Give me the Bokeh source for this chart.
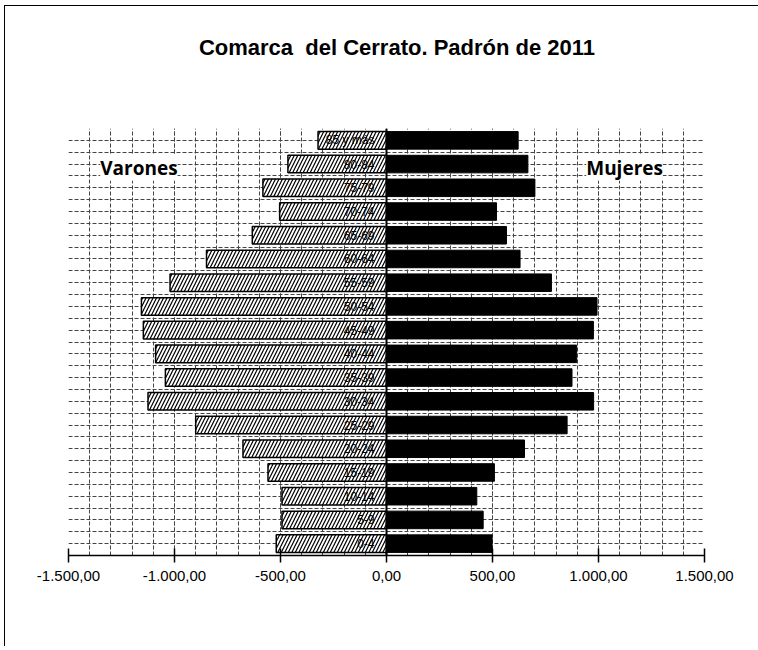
from bokeh.plotting import figure
from bokeh.layouts import column
from bokeh.models import (ColumnDataSource, Label, Span, SingleIntervalTicker,
                          FixedTicker, CustomJSTickFormatter, Range1d, Div)
from bokeh.core.properties import value
from bokeh.embed import file_html
from bokeh.resources import INLINE

# Data (bottom to top)
age_groups = ["0-4", "5-9", "10-14", "15-19", "20-24", "25-29", "30-34", "35-39",
              "40-44", "45-49", "50-54", "55-59", "60-64", "65-69", "70-74",
              "75-79", "80-84", "85 y más"]
varones = [520, 493, 493, 559, 677, 900, 1125, 1043, 1089, 1147, 1156, 1021,
           849, 633, 504, 583, 465, 323]
mujeres = [498, 456, 426, 509, 651, 852, 977, 875, 897, 976, 993, 778,
           630, 566, 519, 700, 667, 621]
title_text = "Comarca  del Cerrato. Padrón de 2011"

pos = list(range(len(age_groups)))
src = ColumnDataSource(dict(
    y=pos,
    age=age_groups,
    men=[-v for v in varones],
    women=mujeres,
    zero=[0] * len(pos),
))

title_div = Div(
    text=('<div style="width:748px;box-sizing:border-box;padding-left:26px;'
          'padding-top:24px;text-align:center;white-space:pre;'
          'font-family:\'Liberation Sans\';font-weight:bold;font-size:22px;'
          'line-height:26px;color:black;">' + title_text + '</div>'),
    width=748, height=110)

p = figure(width=748, height=520, output_backend="svg", toolbar_location=None,
           x_range=Range1d(-1500, 1500), y_range=Range1d(-0.5, len(pos) - 0.5),
           min_border_left=63, min_border_right=49, min_border_top=2,
           min_border_bottom=91)
p.outline_line_color = None
p.background_fill_color = "white"
p.border_fill_color = "white"

# grid
p.xaxis.ticker = SingleIntervalTicker(interval=500, num_minor_ticks=5)
p.xgrid.grid_line_color = "#444444"
p.xgrid.grid_line_width = 1
p.xgrid.grid_line_dash = "4 2"
p.xgrid.minor_grid_line_color = "#444444"
p.xgrid.minor_grid_line_dash = "4 2"
p.xgrid.minor_grid_line_width = 1
p.ygrid.ticker = FixedTicker(ticks=[i * 0.5 - 0.5 for i in range(2 * len(pos) + 1)])
p.ygrid.grid_line_color = "#444444"
p.ygrid.grid_line_dash = "4 2"
p.yaxis.visible = False

# x axis
p.xaxis.formatter = CustomJSTickFormatter(code="""
const s = Math.abs(tick).toFixed(2).split('.');
const ip = s[0].replace(/\\B(?=(\\d{3})+(?!\\d))/g, '.');
return (tick < 0 ? '-' : '') + ip + ',' + s[1];
""")
p.xaxis.axis_line_color = "black"
p.xaxis.axis_line_width = 1.5
p.xaxis.major_tick_line_color = "black"
p.xaxis.major_tick_line_width = 1.5
p.xaxis.major_tick_in = 7
p.xaxis.major_tick_out = 7
p.xaxis.minor_tick_line_color = None
p.xaxis.major_label_text_font = "Liberation Sans"
p.xaxis.major_label_text_font_size = "15px"
p.xaxis.major_label_text_color = "black"
p.xaxis.major_label_standoff = 8

# bars
p.hbar(y="y", left="men", right="zero", height=0.74, source=src,
       fill_color="white", line_color="black", line_width=1.5,
       hatch_pattern="/", hatch_color="black", hatch_scale=7, hatch_weight=1.2)
p.hbar(y="y", left="zero", right="women", height=0.74, source=src,
       fill_color="black", line_color="black")

p.add_layout(Span(location=0, dimension="height", line_color="black", line_width=2))

p.text(x="zero", y="y", text="age", source=src, x_offset=-12,
       text_align="right", text_baseline="middle",
       text_font=value("Liberation Sans"), text_font_size="12px", text_color="black")

p.add_layout(Label(x=-1168, y=15.85, text="Varones", text_align="center",
                   text_baseline="middle", text_font="Open Sans",
                   text_font_style="bold", text_font_size="19px", text_color="black",
                   background_fill_color="white"))
p.add_layout(Label(x=1123, y=15.85, text="Mujeres", text_align="center",
                   text_baseline="middle", text_font="Open Sans",
                   text_font_style="bold", text_font_size="19px", text_color="black",
                   background_fill_color="white"))

layout = column(title_div, p, spacing=0,
                styles={"border-left": "1px solid black", "border-top": "1px solid black",
                        "border-right": "1px solid black", "margin-left": "4px",
                        "margin-top": "5px", "background-color": "white"})

open("out.html", "w").write(file_html(layout, INLINE))
